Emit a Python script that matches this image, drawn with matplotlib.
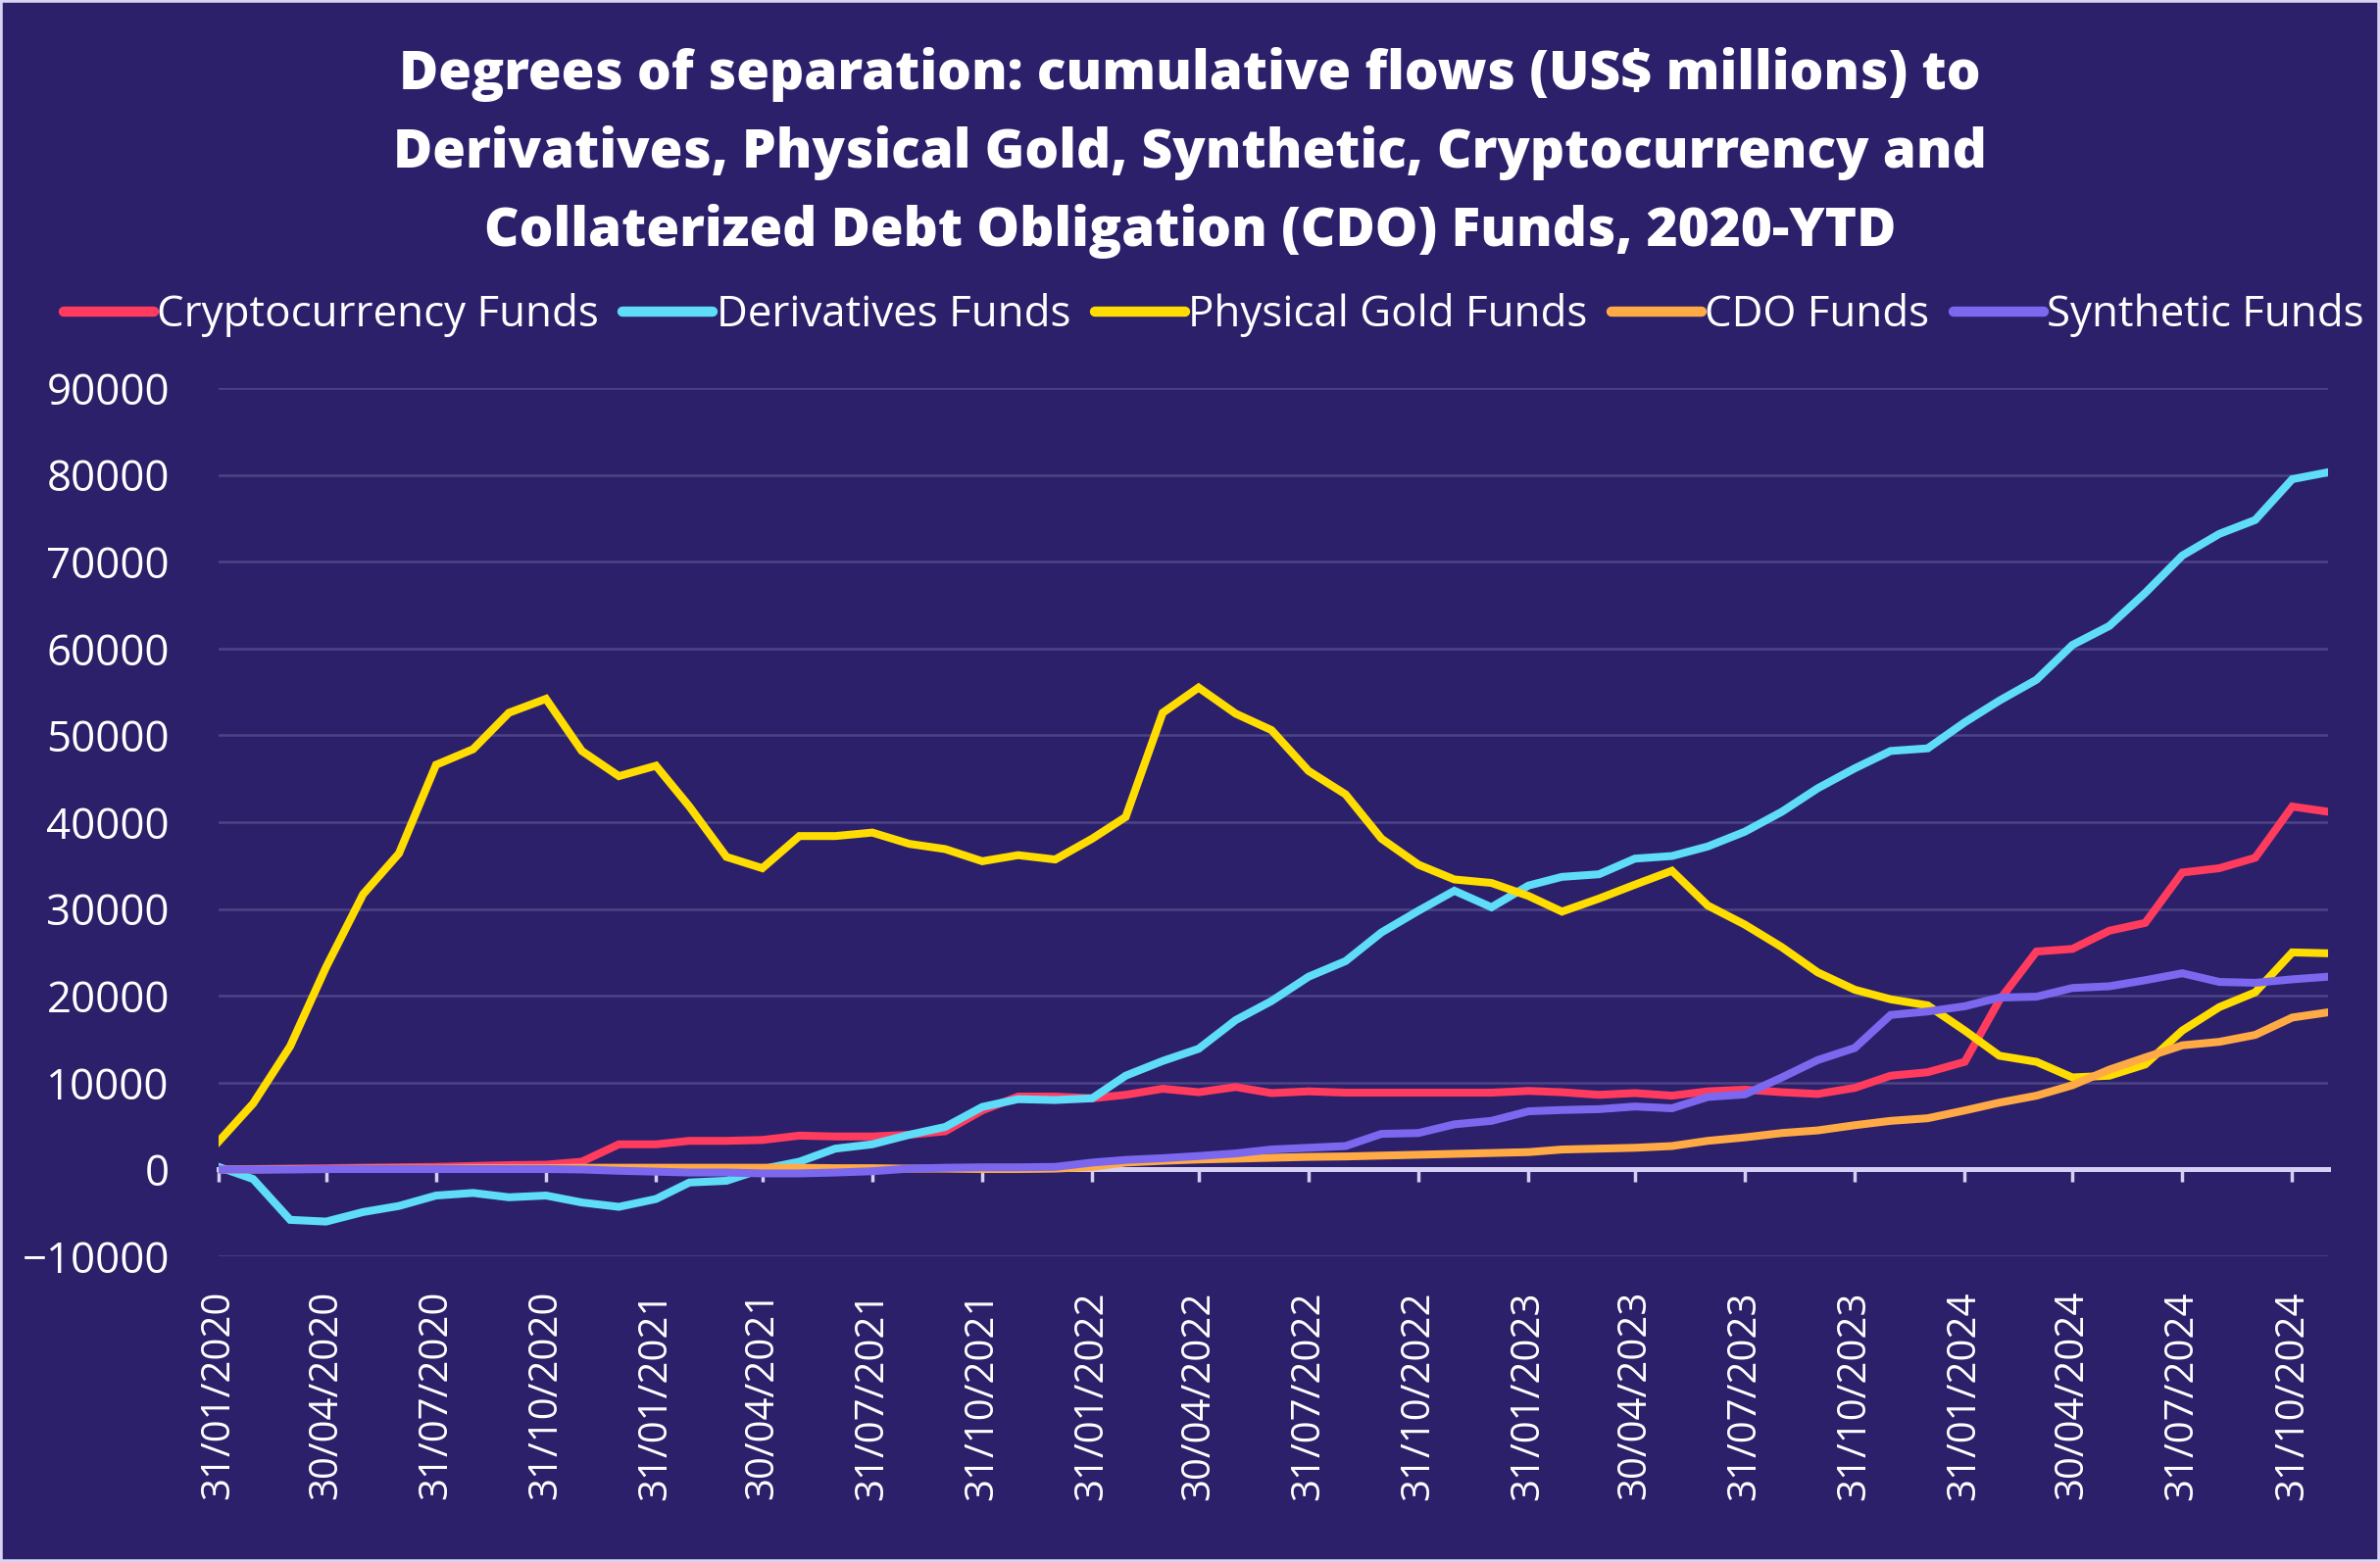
import pandas as pd
import matplotlib.pyplot as plt
import matplotlib.dates as mdates
from matplotlib.patches import Rectangle

plt.rcParams['font.family'] = ['Open Sans', 'DejaVu Sans']

# Month-end dates, Jan 2020 - Nov 2024
dates = pd.date_range("2020-01-31", periods=59, freq="ME")

crypto = [0, 50, 100, 150, 200, 250, 300, 400, 500, 550,
          900, 2900, 2900, 3300, 3300, 3400, 3900, 3800, 3800, 4000,
          4400, 6800, 8400, 8400, 8200, 8600, 9300, 8900, 9500, 8800,
          9000, 8850, 8850, 8850, 8850, 8850, 9050, 8900, 8600, 8800,
          8500, 9000, 9200, 8900, 8700, 9400, 10800, 11200, 12400, 19500,
          25100, 25400, 27500, 28400, 34200, 34700, 35900, 41800, 41200]

derivatives = [300, -1100, -5800, -6000, -4900, -4200, -3000, -2700, -3200, -3000,
               -3800, -4300, -3400, -1500, -1300, 50, 900, 2400, 2900, 4000,
               4900, 7200, 8100, 8000, 8200, 10800, 12500, 13900, 17200, 19400,
               22200, 24000, 27300, 29800, 32100, 30200, 32700, 33700, 34000, 35800,
               36100, 37200, 38900, 41200, 43900, 46200, 48200, 48500, 51500, 54000,
               56400, 60400, 62600, 66400, 70700, 73200, 74800, 79500, 80300]

gold = [3200, 7600, 14200, 23300, 31700, 36400, 46600, 48400, 52600, 54200,
        48200, 45300, 46500, 41800, 36000, 34700, 38400, 38400, 38800, 37500,
        36900, 35500, 36200, 35700, 38100, 40600, 52600, 55500, 52500, 50600,
        45900, 43200, 38100, 35100, 33400, 33000, 31500, 29700, 31200, 32800,
        34400, 30400, 28200, 25600, 22700, 20700, 19600, 18900, 16000, 13100,
        12400, 10600, 10800, 12100, 16000, 18700, 20400, 25000, 24900]

cdo = [0, 0, 50, 50, 100, 100, 100, 150, 150, 150,
       200, 200, 200, 200, 200, 200, 200, 150, 150, 100,
       100, 50, 50, 100, 300, 800, 1000, 1150, 1250, 1350,
       1450, 1500, 1600, 1700, 1800, 1900, 2000, 2300, 2400, 2500,
       2700, 3300, 3700, 4200, 4500, 5100, 5600, 5900, 6800, 7700,
       8500, 9700, 11500, 12900, 14300, 14700, 15500, 17500, 18100]

synthetic = [0, 0, 0, 50, 50, 50, 50, 50, 50, 50,
             0, -150, -250, -350, -350, -450, -450, -350, -200, 100,
             200, 250, 250, 300, 800, 1100, 1300, 1550, 1850, 2300,
             2500, 2700, 4100, 4200, 5200, 5600, 6700, 6850, 6950, 7250,
             7050, 8350, 8650, 10600, 12600, 14000, 17800, 18200, 18800, 19800,
             19900, 20900, 21100, 21800, 22600, 21600, 21500, 21900, 22200]

series = [
    ("Cryptocurrency Funds", crypto, "#FF3B5E"),
    ("Derivatives Funds", derivatives, "#5EDCF8"),
    ("Physical Gold Funds", gold, "#FFDD00"),
    ("CDO Funds", cdo, "#FFAA45"),
    ("Synthetic Funds", synthetic, "#7B68EE"),
]

BG = "#2C206B"
GRID = "#4D4486"
AXIS = "#D6D0F4"

fig = plt.figure(figsize=(24.28, 15.94), dpi=100, facecolor=BG)
ax = fig.add_axes([0.0918, 0.1957, 0.9782 - 0.0918, 0.7516 - 0.1957])
ax.set_facecolor(BG)

for name, vals, color in series:
    ax.plot(dates, vals, color=color, lw=5.8, label=name, zorder=3,
            solid_joinstyle="miter")

ax.set_xlim(dates[0], dates[-1])
ax.set_ylim(-10000, 90000)
ax.set_yticks(range(-10000, 90001, 10000))
ax.grid(axis="y", color=GRID, lw=1.8)
ax.set_axisbelow(True)

for s in ["top", "right", "left"]:
    ax.spines[s].set_visible(False)
ax.spines["bottom"].set_position(("data", 0))
ax.spines["bottom"].set_color(AXIS)
ax.spines["bottom"].set_linewidth(3.6)
ax.spines["bottom"].set_zorder(2.5)

ax.set_xticks(dates[::3])
ax.xaxis.set_major_formatter(mdates.DateFormatter("%d/%m/%Y"))
ax.tick_params(axis="x", colors=AXIS, length=9, width=2.5, pad=80,
               labelcolor="white", labelsize=29, labelrotation=90)
ax.tick_params(axis="y", length=0, pad=36, labelcolor="white", labelsize=31.5)

# Title
fig.text(0.5, 0.902,
         "Degrees of separation: cumulative flows (US$ millions) to\n"
         "Derivatives, Physical Gold, Synthetic, Cryptocurrency and\n"
         "Collaterized Debt Obligation (CDO) Funds, 2020-YTD",
         ha="center", va="center", color="white", fontsize=39.5,
         fontweight="heavy", linespacing=1.56)

# Legend
leg = fig.legend(loc="center", bbox_to_anchor=(0.51, 0.798), ncol=5,
                 frameon=False, fontsize=31.6, handlelength=2.1,
                 handletextpad=0.08, columnspacing=0.55, labelcolor="white")
for line in leg.get_lines():
    line.set_linewidth(7.5)
    line.set_solid_capstyle("round")

# Light frame
fig.patches.append(Rectangle((0, 0), 1, 1, transform=fig.transFigure,
                             fill=False, edgecolor="#D8D4F2", lw=4))

plt.savefig("out.png", dpi=100, facecolor=BG)
plt.close()
